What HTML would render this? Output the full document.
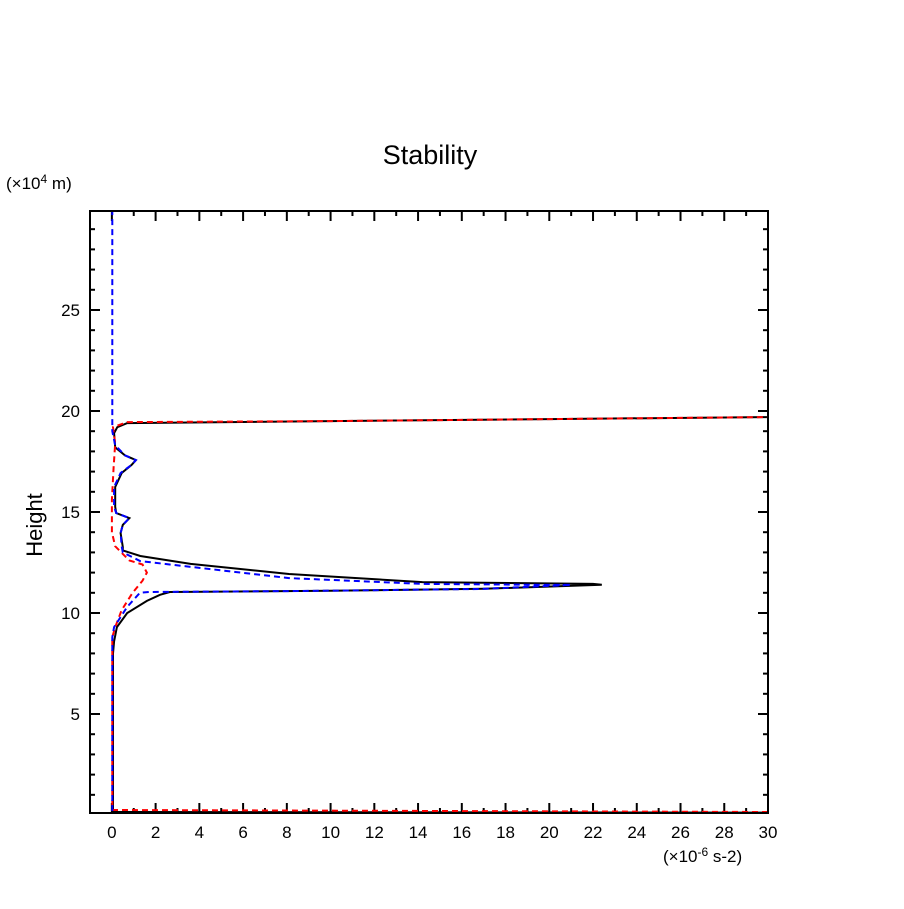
<!DOCTYPE html>
<html><head><meta charset="utf-8"><style>
html,body{margin:0;padding:0;background:#fff}
svg text{font-family:"Liberation Sans",sans-serif;fill:#000}
</style></head><body>
<svg id="chart" width="904" height="904" viewBox="0 0 904 904" xmlns="http://www.w3.org/2000/svg">
<rect width="904" height="904" fill="#fff"/>
<text x="430" y="164" font-size="27" text-anchor="middle">Stability</text>
<text x="6" y="189" font-size="17">(×10<tspan font-size="12" dy="-6">4</tspan><tspan dy="6"> m)</tspan></text>
<text transform="translate(42,525) rotate(-90)" font-size="22" text-anchor="middle">Height</text>
<text x="663" y="862" font-size="17">(×10<tspan font-size="12" dy="-6">-6</tspan><tspan dy="6"> s-2)</tspan></text>
<g id="ticks"></g>
<g id="series"></g>
<rect x="90" y="211" width="678" height="602" fill="none" stroke="#000" stroke-width="2"/>
</svg>
<script>
const xTicks = [0,2,4,6,8,10,12,14,16,18,20,22,24,26,28,30];
const yTicks = [5,10,15,20,25];
const blackX = [30,0.05,0.05,0.1,0.23,0.7,1.6,2.2,2.65,10,17,22.4,22,14.2,8.1,3.6,1.3,0.5,0.5,0.4,0.5,0.8,0.2,0.15,0.15,0.45,0.9,1.1,0.6,0.15,0.1,0.25,0.7,10,20,30];
const blackH = [0.12,0.15,8,8.6,9.3,10.0,10.6,10.9,11.04,11.1,11.2,11.4,11.44,11.53,11.93,12.43,12.82,13.1,13.27,13.96,14.36,14.7,14.95,15.25,16.24,16.93,17.33,17.57,17.8,18.2,18.9,19.2,19.4,19.5,19.6,19.7];
const blueX = [0.02,0.02,0.1,0.7,1.28,1.7,8.6,16.8,21,20,14.2,8.1,1.3,0.5,0.45,0.4,0.5,0.8,0.2,0.1,0.1,0.4,0.9,1.1,0.6,0.15,0.02,0.02];
const blueH = [0.2,8.8,9.3,10.3,11.0,11.04,11.09,11.19,11.39,11.39,11.44,11.73,12.57,13.0,13.3,13.96,14.36,14.7,14.95,15.25,16.24,16.93,17.33,17.57,17.8,18.3,19.0,29.9];
const redX = [30,15,0.02,0.02,0.15,0.45,0.95,1.4,1.6,1.4,0.8,0.15,0.0,0.0,0.08,0.15,0.05,0.7,10,20,30];
const redH = [0.15,0.2,0.25,8.8,9.3,10.15,11.0,11.6,12.0,12.4,12.6,13.3,14.0,15.6,17.2,18.4,19.2,19.45,19.5,19.6,19.7];
const NS='http://www.w3.org/2000/svg';
const X0=90,X1=768,Y0=813,Y1=211,xmin=-1,xmax=30,ymin=0.1,ymax=29.9;
function sx(v){return X0+(v-xmin)/(xmax-xmin)*(X1-X0);}
function sy(v){return Y0-(v-ymin)/(ymax-ymin)*(Y0-Y1);}
const tg=document.getElementById('ticks');
function line(x1,y1,x2,y2){const l=document.createElementNS(NS,'line');l.setAttribute('x1',x1);l.setAttribute('y1',y1);l.setAttribute('x2',x2);l.setAttribute('y2',y2);l.setAttribute('stroke','#000');l.setAttribute('stroke-width','2');


tg.appendChild(l);}
for(let v=-1;v<=30;v++){const major=(v%2===0&&v>=0);const len=major?10:5;const x=sx(v);line(x,Y0,x,Y0-len);line(x,Y1,x,Y1+len);}
for(let v=1;v<=29;v++){const major=(v%5===0);const len=major?10:5;const y=sy(v);line(X0,y,X0+len,y);line(X1,y,X1-len,y);}
xTicks.forEach(v=>{const t=document.createElementNS(NS,'text');t.setAttribute('x',sx(v));t.setAttribute('y',838);t.setAttribute('font-size','17');t.setAttribute('text-anchor','middle');t.textContent=v;


tg.appendChild(t);});
yTicks.forEach(v=>{const t=document.createElementNS(NS,'text');t.setAttribute('x',80);t.setAttribute('y',sy(v)+6);t.setAttribute('font-size','17');t.setAttribute('text-anchor','end');t.textContent=v;


tg.appendChild(t);});
const sg=document.getElementById('series');
const cp=document.createElementNS(NS,'clipPath');cp.setAttribute('id','clip');const cr=document.createElementNS(NS,'rect');cr.setAttribute('x',X0);cr.setAttribute('y',Y1);cr.setAttribute('width',X1-X0);cr.setAttribute('height',Y0-Y1);cp.appendChild(cr);sg.appendChild(cp);
function series(xs,hs,color,dash,name){const p=document.createElementNS(NS,'polyline');p.setAttribute('points',xs.map((v,i)=>sx(v).toFixed(1)+','+sy(hs[i]).toFixed(1)).join(' '));p.setAttribute('fill','none');p.setAttribute('stroke',color);p.setAttribute('stroke-width','2');if(dash)p.setAttribute('stroke-dasharray',dash);p.setAttribute('clip-path','url(#clip)');


sg.appendChild(p);}
series(blackX,blackH,'#000',null,'black-series');
series(redX,redH,'#f00','6 4','red-series');
series(blueX,blueH,'#00f','6 4','blue-series');
</script>
</body></html>
